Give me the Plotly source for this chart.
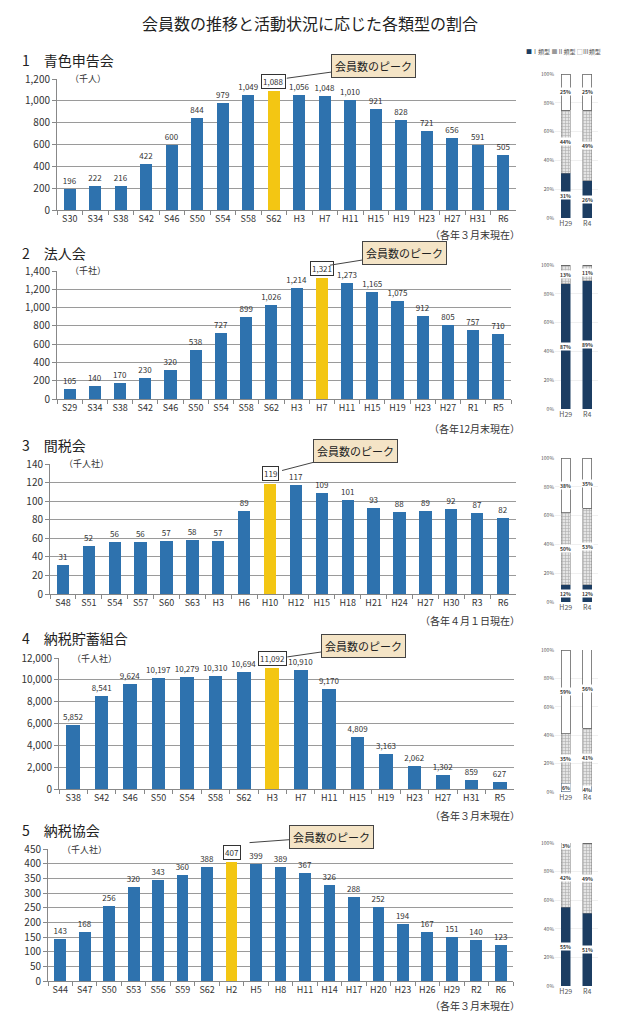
import plotly.graph_objects as go

# page body has an 8px default margin; size the figure so it fits the 620x1024 window
PAD = 8
W, H = 620 - 2 * PAD, 1024 - 2 * PAD


def fx(px):
    return (px - PAD) / W


def fy(py):
    return 1 - (py - PAD) / H


FONT = "Noto Sans CJK JP"

# ---------------- data ----------------
main_title = "会員数の推移と活動状況に応じた各類型の割合"
peak_label = "会員数のピーク"

p1_title = "1　青色申告会"
p1_unit = "（千人）"
p1_note = "（各年３月末現在）"
p1_cats = ["S30", "S34", "S38", "S42", "S46", "S50", "S54", "S58", "S62", "H3",
           "H7", "H11", "H15", "H19", "H23", "H27", "H31", "R6"]
p1_vals = [196, 222, 216, 422, 600, 844, 979, 1049, 1088, 1056, 1048, 1010,
           921, 828, 721, 656, 591, 505]

p2_title = "2　法人会"
p2_unit = "（千社）"
p2_note = "（各年12月末現在）"
p2_cats = ["S29", "S34", "S38", "S42", "S46", "S50", "S54", "S58", "S62", "H3",
           "H7", "H11", "H15", "H19", "H23", "H27", "R1", "R5"]
p2_vals = [105, 140, 170, 230, 320, 538, 727, 899, 1026, 1214, 1321, 1273,
           1165, 1075, 912, 805, 757, 710]

p3_title = "3　間税会"
p3_unit = "（千人社）"
p3_note = "（各年４月１日現在）"
p3_cats = ["S48", "S51", "S54", "S57", "S60", "S63", "H3", "H6", "H10", "H12",
           "H15", "H18", "H21", "H24", "H27", "H30", "R3", "R6"]
p3_vals = [31, 52, 56, 56, 57, 58, 57, 89, 119, 117, 109, 101, 93, 88, 89, 92,
           87, 82]

p4_title = "4　納税貯蓄組合"
p4_unit = "（千人社）"
p4_note = "（各年３月末現在）"
p4_cats = ["S38", "S42", "S46", "S50", "S54", "S58", "S62", "H3", "H7", "H11",
           "H15", "H19", "H23", "H27", "H31", "R5"]
p4_vals = [5852, 8541, 9624, 10197, 10279, 10310, 10694, 11092, 10910, 9170,
           4809, 3163, 2062, 1302, 859, 627]

p5_title = "5　納税協会"
p5_unit = "（千人社）"
p5_note = "（各年３月末現在）"
p5_cats = ["S44", "S47", "S50", "S53", "S56", "S59", "S62", "H2", "H5", "H8",
           "H11", "H14", "H17", "H20", "H23", "H26", "H29", "R2", "R6"]
p5_vals = [143, 168, 256, 320, 343, 360, 388, 407, 399, 389, 367, 326, 288,
           252, 194, 167, 151, 140, 123]

share_cats = ["H29", "R4"]
type_names = ["Ⅰ類型", "Ⅱ類型", "Ⅲ類型"]
p1_type1 = [31, 26]
p1_type2 = [44, 49]
p1_type3 = [25, 25]
p2_type1 = [87, 89]
p2_type2 = [13, 11]
p2_type3 = [0, 0]
p3_type1 = [12, 12]
p3_type2 = [50, 53]
p3_type3 = [38, 35]
p4_type1 = [6, 4]
p4_type2 = [35, 41]
p4_type3 = [59, 56]
p5_type1 = [55, 51]
p5_type2 = [42, 49]
p5_type3 = [3, 0]

panels_data = [
    (p1_title, p1_unit, p1_note, p1_cats, p1_vals, (p1_type1, p1_type2, p1_type3)),
    (p2_title, p2_unit, p2_note, p2_cats, p2_vals, (p2_type1, p2_type2, p2_type3)),
    (p3_title, p3_unit, p3_note, p3_cats, p3_vals, (p3_type1, p3_type2, p3_type3)),
    (p4_title, p4_unit, p4_note, p4_cats, p4_vals, (p4_type1, p4_type2, p4_type3)),
    (p5_title, p5_unit, p5_note, p5_cats, p5_vals, (p5_type1, p5_type2, p5_type3)),
]

# ---------------- layout (pixels in the 620x1024 page) ----------------
panels_layout = [
    dict(xdom=(57, 516), ydom=(79, 210), ymax=1200, dtick=200, title_y=60, note_y=235,
         call=(87, -12), shift=(13, 13), sdom=(74, 218), unit_x=64),
    dict(xdom=(57, 511), ydom=(271, 399), ymax=1400, dtick=200, title_y=253, note_y=428,
         call=(75, -12), shift=(8, 13), sdom=(265, 409), unit_x=64),
    dict(xdom=(50, 516), ydom=(464, 594), ymax=140, dtick=20, title_y=445, note_y=620,
         call=(73, -19), shift=(12, 13), sdom=(458, 602), unit_x=58),
    dict(xdom=(59, 514), ydom=(658, 789), ymax=12000, dtick=2000, title_y=638, note_y=815,
         call=(76, -11), shift=(15, 11), sdom=(650, 792), unit_x=66),
    dict(xdom=(48, 513), ydom=(849, 981), ymax=450, dtick=50, title_y=830, note_y=1005,
         call=(82, -6), shift=(18, 19), sdom=(843, 986), unit_x=56),
]

BLUE = "#2E72AE"
YELLOW = "#F3C613"
DARK = "#1C3D62"
GRID = "#9a9a9a"
TXT = "#333333"

fig = go.Figure()
annotations = []
layout_axes = {}

for i, ((title, unit, note, cats, vals, types), L) in enumerate(zip(panels_data, panels_layout)):
    n = i + 1
    ax_main = "" if n == 1 else str(n)
    peak = vals.index(max(vals))
    colors = [YELLOW if k == peak else BLUE for k in range(len(vals))]
    texts = ["" if k == peak else f"{v:,}" for k, v in enumerate(vals)]
    fig.add_trace(go.Bar(
        x=cats, y=vals, marker=dict(color=colors, line=dict(width=0)),
        width=0.48, text=texts, textposition="outside", cliponaxis=False,
        constraintext="none",
        textfont=dict(size=8, color=TXT, family=FONT),
        xaxis="x" + ax_main, yaxis="y" + ax_main, showlegend=False,
        hoverinfo="x+y",
    ))
    layout_axes["xaxis" + ax_main] = dict(
        domain=[fx(L["xdom"][0]), fx(L["xdom"][1])], anchor="y" + ax_main,
        type="category", showline=True, linecolor="#888", ticks="outside",
        tickson="boundaries", ticklen=4, tickcolor="#888", showgrid=False,
        tickangle=0, automargin=False,
        tickfont=dict(size=9, color=TXT, family=FONT), fixedrange=True,
    )
    layout_axes["yaxis" + ax_main] = dict(
        domain=[fy(L["ydom"][1]), fy(L["ydom"][0])], anchor="x" + ax_main,
        range=[0, L["ymax"]], dtick=L["dtick"], tickformat=",", automargin=False,
        showline=True, linecolor="#888", ticks="outside", ticklen=4, tickcolor="#888",
        showgrid=True, gridcolor=GRID, gridwidth=1, zeroline=False,
        tickfont=dict(size=10, color=TXT, family=FONT), fixedrange=True,
    )
    # peak value label with box
    annotations.append(dict(
        x=cats[peak], y=vals[peak], xref="x" + ax_main, yref="y" + ax_main,
        text=f"{vals[peak]:,}", showarrow=False, yanchor="bottom", yshift=2,
        bordercolor="#333", borderwidth=1, borderpad=1, bgcolor="white",
        font=dict(size=8, color=TXT, family=FONT),
    ))
    # callout
    annotations.append(dict(
        x=cats[peak], y=vals[peak], xref="x" + ax_main, yref="y" + ax_main,
        xshift=L["shift"][0], yshift=L["shift"][1],
        ax=L["call"][0], ay=L["call"][1], axref="pixel", ayref="pixel",
        text=peak_label, showarrow=True, arrowhead=0, arrowwidth=1, arrowcolor="#444",
        bordercolor="#444", borderwidth=1, borderpad=3, bgcolor="#F4E4C6",
        font=dict(size=11, color="#222", family=FONT),
    ))
    # panel title
    annotations.append(dict(
        x=fx(20), y=fy(L["title_y"]), xref="paper", yref="paper", xanchor="left",
        yanchor="middle", text=title, showarrow=False,
        font=dict(size=14, color="#222", family=FONT),
    ))
    # unit label (covers top gridline)
    annotations.append(dict(
        x=fx(L["unit_x"]), y=fy(L["ydom"][0]), xref="paper", yref="paper",
        xanchor="left", yanchor="middle", text="\u00a0\u00a0" + unit + "\u00a0\u00a0\u00a0",
        showarrow=False, bgcolor="white", borderpad=1,
        font=dict(size=9, color=TXT, family=FONT),
    ))
    # note
    annotations.append(dict(
        x=fx(522), y=fy(L["note_y"]), xref="paper", yref="paper", xanchor="right",
        yanchor="middle", text=note, showarrow=False,
        font=dict(size=10, color=TXT, family=FONT),
    ))

    # ---------- share stacked bars ----------
    m = n + 5
    ax_s = str(m)
    t1, t2, t3 = types
    fig.add_trace(go.Bar(
        x=share_cats, y=t1, name=type_names[0], width=0.42,
        marker=dict(color=DARK, line=dict(color=DARK, width=0.5)),
        xaxis="x" + ax_s, yaxis="y" + ax_s, showlegend=False, cliponaxis=False,
    ))
    fig.add_trace(go.Bar(
        x=share_cats, y=t2, name=type_names[1], width=0.42,
        marker=dict(color="white", line=dict(color="#777", width=0.5),
                    pattern=dict(shape="+", fgcolor="#777", bgcolor="#e4e4e4",
                                 size=3, solidity=0.35)),
        xaxis="x" + ax_s, yaxis="y" + ax_s, showlegend=False, cliponaxis=False,
    ))
    fig.add_trace(go.Bar(
        x=share_cats, y=t3, name=type_names[2], width=0.42,
        marker=dict(color="white", line=dict(color="#666", width=0.8)),
        xaxis="x" + ax_s, yaxis="y" + ax_s, showlegend=False, cliponaxis=False,
    ))
    layout_axes["xaxis" + ax_s] = dict(
        domain=[fx(555), fx(598)], anchor="y" + ax_s, type="category",
        showline=False, showgrid=False, ticks="", tickangle=0, automargin=False,
        tickfont=dict(size=7, color="#555", family=FONT), fixedrange=True,
    )
    layout_axes["yaxis" + ax_s] = dict(
        domain=[fy(L["sdom"][1]), fy(L["sdom"][0])], anchor="x" + ax_s,
        range=[0, 100], tickvals=[0, 20, 40, 60, 80, 100], automargin=False,
        ticktext=["0%", "20%", "40%", "60%", "80%", "100%"],
        showline=False, showgrid=True, gridcolor="#f0f0f0", zeroline=False,
        tickfont=dict(size=5, color="#555", family=FONT), fixedrange=True,
    )
    for ci, c in enumerate(share_cats):
        base = 0
        for seg in (t1, t2, t3):
            v = seg[ci]
            if v > 0:
                annotations.append(dict(
                    x=c, y=base + v / 2, xref="x" + ax_s, yref="y" + ax_s,
                    text=f"<b>{v}%</b>", showarrow=False, bgcolor="white",
                    borderpad=0, font=dict(size=5, color="#333", family=FONT),
                ))
            base += v

# legend for share charts
annotations.append(dict(
    x=fx(563), y=fy(52), xref="paper", yref="paper", xanchor="center", yanchor="middle",
    text=(f"<span style='color:{DARK}'>■</span>{type_names[0]} "
          f"<span style='color:#999'>■</span>{type_names[1]} "
          f"<span style='color:#888'>□</span>{type_names[2]}"),
    showarrow=False, font=dict(size=6, color="#555", family=FONT),
))

# main title
annotations.append(dict(
    x=fx(310), y=fy(10), xref="paper", yref="paper", xanchor="center", yanchor="top",
    text=main_title, showarrow=False, borderpad=0,
    font=dict(size=16, color="#222", family=FONT),
))

fig.update_layout(
    width=W, height=H, margin=dict(l=0, r=0, t=0, b=0, autoexpand=False),
    paper_bgcolor="white", plot_bgcolor="white", barmode="stack",
    annotations=annotations, showlegend=False,
    font=dict(family=FONT), **layout_axes,
)

fig.write_html("out.html")
